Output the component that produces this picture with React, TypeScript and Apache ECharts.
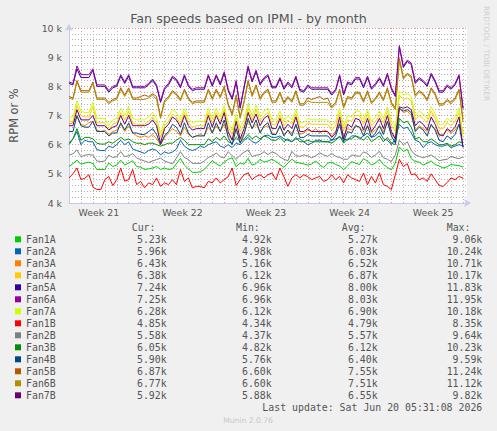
import React, { useEffect, useRef } from "react";
import * as echarts from "echarts";

const fanNames = ["Fan1A","Fan2A","Fan3A","Fan4A","Fan5A","Fan6A","Fan7A","Fan1B","Fan2B","Fan3B","Fan4B","Fan5B","Fan6B","Fan7B"];
const fanColors = ["#00CC00","#0066B3","#FF8000","#FFCC00","#330099","#990099","#CCFF00","#FF0000","#808080","#008F00","#00487D","#B35A00","#B38F00","#6B006B"];
const curVals = ["5.23k","5.96k","6.43k","6.38k","7.24k","7.25k","6.28k","4.85k","5.58k","6.05k","5.90k","6.87k","6.77k","5.92k"];
const minVals = ["4.92k","4.98k","5.16k","6.12k","6.96k","6.96k","6.12k","4.34k","4.37k","4.82k","5.76k","6.60k","6.60k","5.88k"];
const avgVals = ["5.27k","6.03k","6.52k","6.87k","8.00k","8.03k","6.90k","4.79k","5.57k","6.12k","6.40k","7.55k","7.51k","6.55k"];
const maxVals = ["9.06k","10.24k","10.71k","10.17k","11.83k","11.95k","10.18k","8.35k","9.64k","10.23k","9.59k","11.24k","11.12k","9.82k"];
const statHeaders = ["Cur:","Min:","Avg:","Max:"];
const weekLabels = ["Week 21","Week 22","Week 23","Week 24","Week 25"];
const weekLabelSlots = [30, 114, 198, 282, 366];
const lastUpdate = "Last update: Sat Jun 20 05:31:08 2026";

// time axis: 401 two-hour slots, a sample every 4 slots
const slotCount = 401;
const sampleSlots = Array.from({ length: 100 }, (_, k) => k * 4);

const fan1A = [5250,5350,5470,5330,5370,5400,5350,5150,5150,5150,5370,5250,5300,5470,5300,5370,5450,5250,5230,5150,5170,5200,5250,5150,5200,5150,5170,5350,5530,5300,5170,5050,5050,5070,5150,5300,5450,5350,5270,5400,5500,5550,5250,5370,5330,5530,5300,5350,5500,5400,5440,5500,5420,5320,5220,5370,5500,5400,5370,5340,5300,5340,5440,5300,5220,5370,5400,5320,5270,5140,5270,5420,5370,5320,5520,5440,5300,5370,5500,5320,5220,5140,5370,5920,5770,5840,5520,5420,5400,5300,5370,5440,5320,5270,5200,5240,5320,5300,5280,5230];
const fan2A = [6060,6200,6450,6000,6150,6100,6100,5830,5800,5800,5950,5900,6000,6150,6000,6100,5850,5800,5750,5700,5800,5850,5800,5650,5750,5700,5750,5850,6150,5950,5850,5800,5850,5950,5900,6000,6050,6100,5950,5900,6000,5900,6050,6000,6150,6250,6100,6050,6150,6300,6330,6250,6250,6300,6200,6150,6100,6200,6200,6100,6000,6050,6150,6150,6100,6100,6150,6200,6250,6200,6150,6300,6300,6200,6300,6400,6250,6300,6450,6200,6150,6000,6200,6700,6550,6600,6400,6150,6100,5900,6050,6100,6000,5950,5950,6000,5900,5950,6000,5960];
const fan3A = [6700,6750,6950,6700,6650,6750,6800,6500,6450,6500,6350,6450,6500,6700,6450,6650,6400,6300,6250,6300,6250,6350,6200,6000,6250,6400,6550,6450,6300,6600,6350,6250,6300,6350,6300,6600,6400,6650,6450,6700,6300,6200,6550,6150,6400,6800,6550,6700,6450,6600,6650,6400,6350,6600,6350,6500,6400,6650,6350,6400,6500,6450,6550,6400,6500,6450,6300,6450,6750,6300,6550,6500,6650,6600,6450,6650,6400,6500,6650,6450,6800,6350,6200,7250,7100,7150,7000,6500,6650,6550,6450,6650,6550,6300,6350,6500,6400,6500,6700,6430];
const fan4A = [6800,6800,7350,7000,6950,6950,7300,6750,6750,6750,6500,6700,6750,7100,6850,7150,6750,6700,6700,6700,6800,6950,6750,6250,6650,6800,7050,6950,6700,7100,6750,6600,6650,6650,6650,7100,6750,7100,6800,7200,6600,6350,6900,6450,6700,7250,6850,7200,6800,7000,7100,6700,6700,7000,6650,6850,6700,7050,6600,6600,6750,6700,6700,6700,6700,6700,6500,6650,7100,6500,6850,6800,7000,7000,6700,7050,6650,6800,7000,6750,7150,6650,6450,7700,7550,7600,7500,6850,7000,6900,6750,7150,6900,6550,6550,6750,6650,6800,7100,6380];
const fan5A = [8100,8050,8600,8300,8300,8300,8550,8000,8000,8000,7800,7950,8000,8350,8100,8350,7950,7950,7950,7950,8050,8200,8000,7450,7900,8050,8300,8200,7950,8350,8000,7850,7900,7900,7900,8350,8000,8350,8050,8450,7850,7550,8150,7250,7950,8650,8150,8500,8050,8250,8350,7950,7950,8250,7900,8100,7950,8300,7850,7800,8000,7900,7900,7900,7900,7900,7700,7850,8350,7700,8100,8050,8250,8250,7950,8300,7900,8050,8250,8000,8400,7900,7650,9350,8650,8850,8750,8100,8250,8150,8000,8400,8150,7800,7800,8000,7900,8050,8350,7240];
const fan6A = [8150,8100,8700,8400,8400,8400,8600,8050,8050,8050,7850,8000,8050,8400,8150,8400,8000,8000,8000,8000,8100,8250,8050,7500,7950,8100,8350,8250,8000,8400,8050,7900,7950,7950,7950,8400,8050,8400,8100,8500,7900,7600,8200,7300,8000,8700,8200,8550,8100,8300,8400,8000,8000,8300,7950,8150,8000,8350,7900,7850,8050,7950,7950,7950,7950,7950,7750,7900,8400,7750,8150,8100,8300,8300,8000,8350,7950,8100,8300,8050,8450,7950,7700,9400,8700,8900,8800,8150,8300,8200,8050,8450,8200,7850,7850,8050,7950,8100,8400,7250];
const fan7A = [6950,6950,7500,7150,7100,7100,7450,6900,6900,6900,6650,6850,6900,7250,7000,7300,6900,6850,6850,6850,6950,7100,6900,6400,6800,6950,7200,7100,6850,7250,6900,6750,6800,6800,6800,7250,6900,7250,6950,7350,6750,6500,7050,6600,6850,7400,7000,7350,6950,7150,7250,6850,6850,7150,6800,7000,6850,7200,6750,6750,6900,6850,6850,6850,6850,6850,6650,6800,7250,6650,7000,6950,7150,7150,6850,7200,6800,6950,7150,6900,7300,6800,6600,7850,7700,7750,7650,7000,7150,7050,6900,7300,7050,6700,6700,6900,6800,6950,7250,6280];
const fan1B = [4860,5000,5200,4800,4850,4970,4550,4460,4460,4800,4910,4600,4800,5200,4750,4800,5150,4630,4740,4520,4690,4630,4860,4570,4690,4630,4800,4630,5150,4740,4860,4520,4570,4570,4520,4740,4690,4860,4690,4800,4900,5200,4600,4800,4970,5030,4800,4910,4970,4860,4970,5030,4800,5200,4900,4570,4860,4970,4860,4970,4900,4800,4860,4910,4740,4800,4970,4800,4910,4690,4970,4860,4800,4740,5030,4630,4910,4690,5030,4630,4570,4460,4970,5500,5250,5350,4970,5000,4800,4860,4740,5000,4800,4600,4570,4700,4860,4800,4910,4850];
const fan2B = [5640,5690,5820,5590,5640,5660,5640,5440,5420,5440,5640,5560,5590,5760,5590,5620,5690,5540,5490,5440,5390,5440,5490,5540,5440,5390,5340,5540,5760,5560,5490,5360,5360,5360,5440,5560,5620,5710,5590,5540,5760,5620,5490,5640,5740,5820,5590,5640,5660,5760,5660,5750,5700,5580,5500,5450,5770,5620,5600,5650,5620,5550,5620,5720,5650,5600,5700,5600,5560,5500,5500,5650,5620,5600,5750,5700,5560,5650,5770,5550,5500,5420,5650,6150,6000,6100,5800,5650,5600,5550,5600,5650,5550,5450,5480,5500,5600,5550,5520,5580];
const fan3B = [6000,6200,6550,6150,6250,6250,6200,6050,6020,6020,6100,6050,6150,6250,6150,6200,6100,6050,6050,6000,6050,6050,6000,5950,6000,6050,6050,6150,6250,6150,6000,6000,6000,6000,6000,6200,6100,6250,6150,6300,6100,6050,6250,6100,6200,6350,6200,6300,6200,6300,6250,6150,6150,6250,6100,6200,6100,6250,6100,6100,6150,6100,6100,6100,6100,6100,6050,6150,6300,6050,6200,6200,6300,6250,6150,6300,6100,6200,6300,6100,6250,6050,6000,6900,6750,6800,6600,6200,6250,6100,6100,6200,6100,6000,6000,6050,5950,6000,6100,6050];
const fan4B = [6450,6450,7000,6650,6600,6600,6800,6450,6450,6450,6300,6400,6400,6750,6500,6750,6400,6400,6350,6350,6450,6550,6350,6000,6300,6450,6700,6600,6350,6750,6400,6250,6300,6300,6300,6750,6400,6750,6450,6850,6250,6000,6550,6050,6350,6900,6550,6850,6400,6650,6750,6350,6350,6650,6300,6500,6300,6700,6250,6250,6350,6300,6300,6300,6300,6300,6150,6300,6700,6100,6450,6400,6650,6600,6300,6650,6250,6400,6650,6350,6800,6300,6050,7250,7150,7200,7100,6450,6600,6500,6300,6700,6500,6150,6100,6300,6200,6350,6700,5900];
const fan5B = [7650,7600,8200,7850,7850,7850,8150,7600,7600,7600,7450,7550,7600,7950,7700,7950,7600,7600,7650,7700,7650,7750,7650,6950,7500,7650,7850,7750,7550,7900,7600,7450,7500,7500,7500,7900,7600,7900,7650,8000,7400,7050,7700,6950,7500,8200,7700,8050,7600,7800,7900,7500,7500,7800,7450,7650,7500,7850,7400,7400,7600,7550,7600,7650,7550,7600,7300,7450,7900,7300,7650,7600,7800,7800,7500,7850,7450,7600,7800,7550,7950,7450,7250,8950,8300,8450,8350,7700,7850,7750,7550,7950,7750,7400,7400,7550,7450,7600,7900,6870];
const fan6B = [7600,7550,8150,7800,7800,7800,8100,7550,7550,7550,7400,7500,7550,7900,7650,7900,7550,7550,7550,7550,7600,7700,7550,6900,7450,7600,7800,7700,7500,7850,7550,7400,7450,7450,7450,7850,7550,7850,7600,7950,7350,7000,7650,6900,7450,8150,7650,8000,7550,7750,7850,7450,7450,7750,7400,7600,7450,7800,7350,7350,7500,7450,7450,7450,7450,7450,7250,7400,7850,7250,7600,7550,7750,7750,7450,7800,7400,7550,7750,7500,7900,7400,7200,8900,8250,8400,8300,7650,7800,7700,7500,7900,7700,7350,7350,7500,7400,7550,7850,6770];
const fan7B = [6650,6650,7200,6850,6850,6850,7000,6650,6650,6650,6500,6600,6650,7000,6700,7000,6650,6650,6650,6650,6700,6850,6650,6050,6550,6700,6950,6850,6600,7000,6650,6500,6550,6550,6550,7000,6600,7000,6700,7100,6450,6150,6800,6200,6550,7100,6750,7050,6650,6900,7000,6550,6550,6900,6500,6700,6550,6950,6450,6450,6550,6450,6450,6450,6450,6450,6250,6400,6950,6200,6700,6600,6900,6850,6500,6900,6450,6650,6900,6550,7000,6450,6200,7300,7250,7300,7200,6650,6800,6700,6500,6950,6700,6350,6300,6550,6450,6600,6950,5920];

const fanValues = [fan1A, fan2A, fan3A, fan4A, fan5A, fan6A, fan7A, fan1B, fan2B, fan3B, fan4B, fan5B, fan6B, fan7B];

const sans = "DejaVu Sans";
const mono = "DejaVu Sans Mono";
const textGray = "#555555";
const majorGrid = "#EC8C8C";
const minorGrid = "#B4B4B4";

export default function App() {
  const ref = useRef<HTMLDivElement>(null);
  useEffect(() => {
    if (!ref.current) return;
    const chart = echarts.init(ref.current, undefined, { renderer: "svg" });
    const categories = Array.from({ length: slotCount }, (_, i) => String(i));

    const series = fanNames.map((name, si) => ({
      name,
      type: "line",
      xAxisIndex: 0,
      yAxisIndex: 0,
      showSymbol: false,
      symbol: "none",
      silent: true,
      z: 5,
      color: fanColors[si],
      lineStyle: { width: 1, color: fanColors[si] },
      data: fanValues[si].map((v, k) => [sampleSlots[k], v]),
    }));

    const rowY = (i: number) => 239.3 + 12 * i;
    const colRight = [166.7, 271.7, 377.7, 482.3];
    const colHeadLeft = [131.7, 236, 341.7, 446.7];
    const statCols = [curVals, minVals, avgVals, maxVals];
    const monoFont = `9.9px '${mono}'`;

    const graphic: any[] = [];
    statHeaders.forEach((h, c) => {
      graphic.push({ type: "text", x: colHeadLeft[c], y: 227.7, silent: true,
        style: { text: h, font: monoFont, fill: textGray, textAlign: "left", textVerticalAlign: "middle" } });
    });
    statCols.forEach((col, c) => {
      col.forEach((val, i) => {
        graphic.push({ type: "text", x: colRight[c], y: rowY(i), silent: true,
          style: { text: val, font: monoFont, fill: textGray, textAlign: "right", textVerticalAlign: "middle" } });
      });
    });
    graphic.push({ type: "text", x: 482.3, y: 407.3, silent: true,
      style: { text: lastUpdate, font: monoFont, fill: textGray, textAlign: "right", textVerticalAlign: "middle" } });
    graphic.push({ type: "text", x: 248, y: 420.3, silent: true,
      style: { text: "Munin 2.0.76", font: `7.6px '${sans}'`, fill: "#c8c8c8", textAlign: "center", textVerticalAlign: "middle" } });
    graphic.push({ type: "text", x: 486, y: 53.5, rotation: -Math.PI / 2, silent: true,
      style: { text: "RRDTOOL / TOBI OETIKER", font: `7.4px '${sans}'`, fill: "#cfcfcf", textAlign: "center", textVerticalAlign: "middle" } });

    const option: any = {
      animation: false,
      backgroundColor: "#F0F0F0",
      title: {
        text: "Fan speeds based on IPMI - by month",
        left: "center",
        top: 12,
        padding: 0,
        textStyle: { fontFamily: sans, fontSize: 12.7, fontWeight: "normal", color: textGray },
      },
      grid: { left: 67, top: 28, width: 400, height: 175, show: true, backgroundColor: "#FFFFFF", borderWidth: 0, z: 0 },
      legend: {
        data: fanNames,
        orient: "vertical",
        left: 15,
        top: 233.3,
        padding: 0,
        itemGap: 0,
        itemWidth: 6,
        itemHeight: 6,
        icon: "rect",
        selectedMode: false,
        textStyle: { fontFamily: mono, fontSize: 9.9, lineHeight: 12, color: textGray },
      },
      xAxis: [
        {
          type: "category",
          data: categories,
          boundaryGap: false,
          position: "bottom",
          z: 3,
          axisLine: {
            show: true,
            symbol: ["none", "arrow"],
            symbolSize: [6, 7],
            symbolOffset: [0, 4],
            lineStyle: { color: "#C8C8EC", width: 1 },
          },
          axisTick: { show: false },
          axisLabel: {
            interval: (i: number) => weekLabelSlots.indexOf(i) >= 0,
            formatter: (_v: string, i: number) => weekLabels[weekLabelSlots.indexOf(i)] ?? "",
            margin: 5,
            fontFamily: sans,
            fontSize: 9.4,
            color: textGray,
          },
          splitLine: {
            show: true,
            interval: (i: number) => i % 84 === 72,
            lineStyle: { color: majorGrid, width: 1, type: [1, 2] },
          },
        },
        {
          type: "category",
          data: categories,
          boundaryGap: false,
          position: "bottom",
          z: 2,
          axisLine: { show: false },
          axisTick: { show: false },
          axisLabel: { show: false },
          splitLine: {
            show: true,
            interval: (i: number) => i % 12 === 0 && i % 84 !== 72,
            lineStyle: { color: minorGrid, width: 1, type: [1, 2] },
          },
        },
      ],
      yAxis: [
        {
          type: "value",
          min: 4000,
          max: 10000,
          interval: 1000,
          position: "left",
          z: 3,
          axisLine: {
            show: true,
            symbol: ["none", "arrow"],
            symbolSize: [6, 7],
            symbolOffset: [0, 4],
            lineStyle: { color: "#C8C8EC", width: 1 },
          },
          axisTick: { show: false },
          axisLabel: {
            formatter: (v: number) => `${v / 1000} k`,
            margin: 7,
            fontFamily: sans,
            fontSize: 9.4,
            color: textGray,
          },
          splitLine: { show: true, lineStyle: { color: majorGrid, width: 1, type: [1, 2] } },
          name: "RPM or %",
          nameLocation: "middle",
          nameGap: 50,
          nameTextStyle: { fontFamily: sans, fontSize: 11.4, color: textGray },
        },
        {
          type: "value",
          min: 4000,
          max: 10000,
          interval: 200,
          position: "left",
          z: 2,
          axisLine: { show: false },
          axisTick: { show: false },
          axisLabel: { show: false },
          splitLine: {
            show: true,
            lineStyle: { color: minorGrid, width: 1, type: [1, 2] },
          },
        },
      ],
      series,
      graphic,
    };
    chart.setOption(option);
    return () => chart.dispose();
  }, []);
  return <div ref={ref} style={{ position: "fixed", left: 0, top: 0, width: 497, height: 431 }} />;
}
